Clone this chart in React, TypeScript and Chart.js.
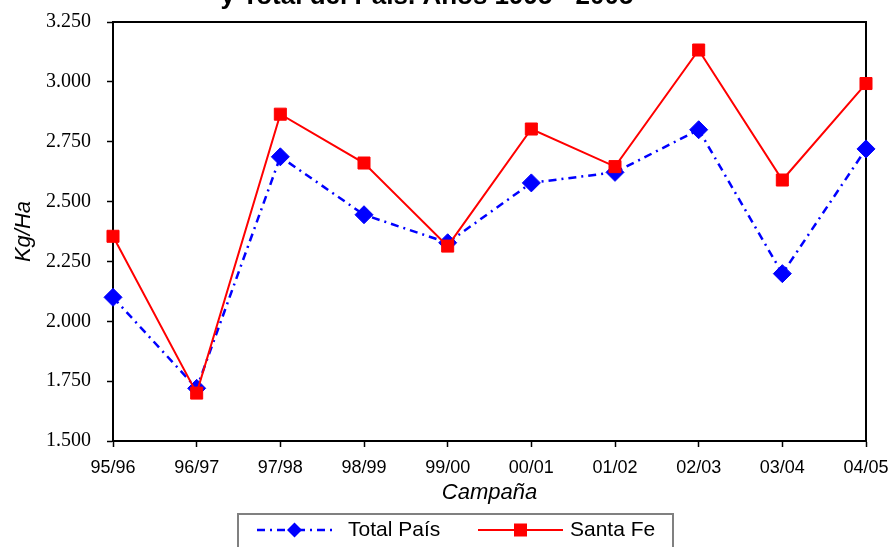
import { useEffect, useRef } from 'react';
import { Chart, registerables } from 'chart.js';

Chart.register(...registerables);

const campaigns = ['95/96', '96/97', '97/98', '98/99', '99/00', '00/01', '01/02', '02/03', '03/04', '04/05'];
const totalPais = [2100, 1720, 2687, 2445, 2328, 2578, 2622, 2800, 2199, 2720];
const santaFe = [2355, 1700, 2865, 2661, 2314, 2803, 2646, 3133, 2590, 2993];
const yTicks = [1500, 1750, 2000, 2250, 2500, 2750, 3000, 3250];
const seriesNames = ['Total País', 'Santa Fe'];
const titleText = 'y Total del País. Años 1995 - 2005';
const yTitle = 'Kg/Ha';
const xTitle = 'Campaña';

const SANS = "'Liberation Sans', Arial, sans-serif";
const SERIF = "'Liberation Serif', 'Times New Roman', serif";

const fmt = (v: number) => String(v).replace(/\B(?=(\d{3})+(?!\d))/g, '.');

const decorPlugin = {
  id: 'decor',
  beforeDatasetsDraw(chart: any) {
    const { ctx, chartArea: a } = chart;
    ctx.save();
    ctx.strokeStyle = '#000';
    ctx.lineWidth = 2;
    ctx.beginPath();
    ctx.moveTo(a.left, a.top);
    ctx.lineTo(a.right, a.top);
    ctx.lineTo(a.right, a.bottom);
    ctx.stroke();
    ctx.restore();
  },
  afterDraw(chart: any) {
    const { ctx } = chart;
    ctx.save();
    // title (cut at the top edge, as in the reference)
    ctx.fillStyle = '#000';
    ctx.font = `bold 26px ${SANS}`;
    ctx.textAlign = 'center';
    ctx.textBaseline = 'alphabetic';
    ctx.fillText(titleText, 427, 4);

    // legend box
    ctx.strokeStyle = '#808080';
    ctx.lineWidth = 2;
    ctx.strokeRect(238, 514, 435, 60);

    const ds = chart.data.datasets;
    const items = [
      { x0: 257, x1: 332, tx: 348 },
      { x0: 478, x1: 563, tx: 570 },
    ];
    const cy = 530;
    items.forEach((it, i) => {
      const d = ds[i];
      ctx.save();
      ctx.strokeStyle = d.borderColor;
      ctx.lineWidth = d.borderWidth;
      ctx.setLineDash(d.borderDash || []);
      ctx.beginPath();
      ctx.moveTo(it.x0, cy);
      ctx.lineTo(it.x1, cy);
      ctx.stroke();
      ctx.restore();
      const cx = (it.x0 + it.x1) / 2;
      ctx.fillStyle = d.pointBackgroundColor;
      ctx.beginPath();
      if (d.pointStyle === 'rectRot') {
        const r = 7.5;
        ctx.moveTo(cx, cy - r);
        ctx.lineTo(cx + r, cy);
        ctx.lineTo(cx, cy + r);
        ctx.lineTo(cx - r, cy);
        ctx.closePath();
      } else {
        ctx.rect(cx - 6.5, cy - 6.5, 13, 13);
      }
      ctx.fill();
      ctx.fillStyle = '#000';
      ctx.font = `21px ${SANS}`;
      ctx.textAlign = 'left';
      ctx.textBaseline = 'middle';
      ctx.fillText(d.label, it.tx, cy);
    });
    ctx.restore();
  },
};

export default function App() {
  const ref = useRef<HTMLCanvasElement | null>(null);

  useEffect(() => {
    if (!ref.current) return;
    const chart = new Chart(ref.current, {
      type: 'line',
      data: {
        labels: campaigns,
        datasets: [
          {
            label: seriesNames[0],
            data: totalPais,
            borderColor: '#0000FF',
            backgroundColor: '#0000FF',
            borderWidth: 2.5,
            borderDash: [8, 5, 2, 5],
            pointStyle: 'rectRot',
            pointRadius: 9,
            pointBorderWidth: 1,
            pointBackgroundColor: '#0000FF',
            pointBorderColor: '#0000FF',
            tension: 0,
            fill: false,
            order: 1,
          },
          {
            label: seriesNames[1],
            data: santaFe,
            borderColor: '#FF0000',
            backgroundColor: '#FF0000',
            borderWidth: 2,
            pointStyle: 'rect',
            pointRadius: 8.5,
            pointBorderWidth: 1,
            pointBackgroundColor: '#FF0000',
            pointBorderColor: '#FF0000',
            tension: 0,
            fill: false,
            order: 0,
          },
        ],
      },
      options: {
        responsive: false,
        animation: false,
        layout: { padding: { left: 0, right: 29, top: 22, bottom: 41 } },
        plugins: {
          legend: { display: false },
          title: { display: false },
          tooltip: { enabled: false },
        },
        scales: {
          x: {
            type: 'category',
            offset: false,
            grid: {
              drawOnChartArea: false,
              drawTicks: true,
              tickLength: 6,
              tickColor: '#000',
              tickWidth: 1.5,
            },
            border: { display: true, color: '#000', width: 2 },
            ticks: {
              color: '#000',
              font: { family: SANS, size: 18 },
              padding: 10,
              maxRotation: 0,
              autoSkip: false,
            },
            title: {
              display: true,
              text: xTitle,
              color: '#000',
              font: { family: SANS, size: 22, style: 'italic' },
              padding: { top: 0, bottom: 0 },
            },
            afterFit: (s: any) => {
              s.height = 65;
              s.paddingLeft = 0;
              s.paddingRight = 0;
            },
          },
          y: {
            type: 'linear',
            min: 1500,
            max: 3250,
            grid: {
              drawOnChartArea: false,
              drawTicks: true,
              tickLength: 6,
              tickColor: '#000',
              tickWidth: 1.5,
            },
            border: { display: true, color: '#000', width: 2 },
            afterBuildTicks: (s: any) => {
              s.ticks = yTicks.map((v) => ({ value: v }));
            },
            ticks: {
              color: '#000',
              font: { family: SERIF, size: 20 },
              padding: 16,
              callback: (v: any) => fmt(Number(v)),
            },
            title: {
              display: true,
              text: yTitle,
              color: '#000',
              font: { family: SANS, size: 22, style: 'italic' },
              padding: { top: 11, bottom: 0 },
            },
            afterFit: (s: any) => {
              s.width = 113;
              s.paddingTop = 0;
              s.paddingBottom = 0;
            },
          },
        },
      },
      plugins: [decorPlugin],
    });
    return () => chart.destroy();
  }, []);

  return (
    <div style={{ position: 'fixed', left: 0, top: 0, width: 895, height: 547, overflow: 'hidden', background: '#fff' }}>
      <canvas ref={ref} width={895} height={547} style={{ display: 'block', width: 895, height: 547 }} />
    </div>
  );
}
